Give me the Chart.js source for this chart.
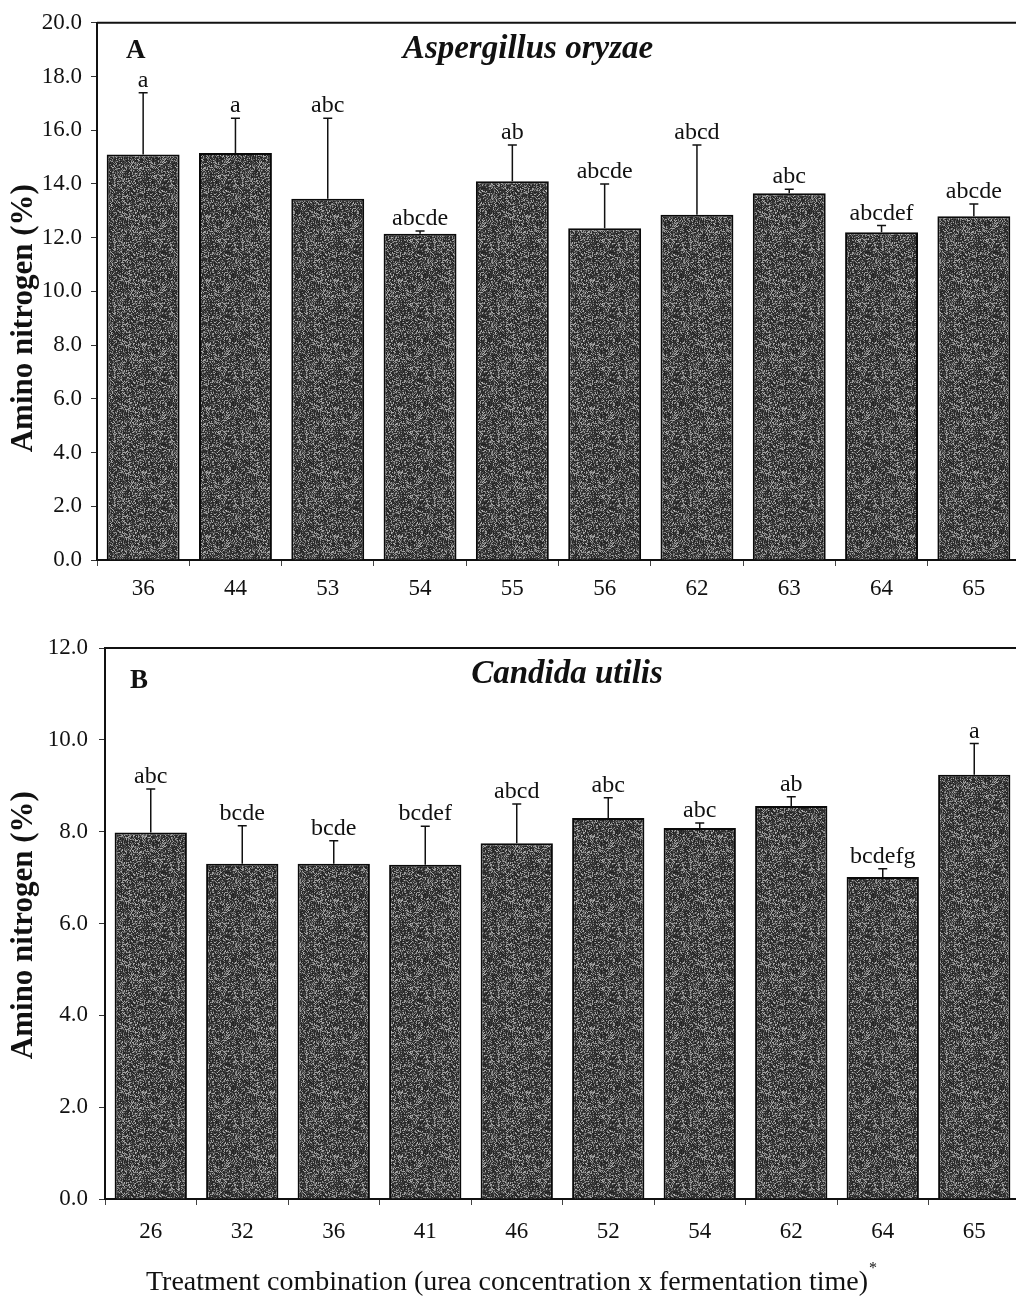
<!DOCTYPE html>
<html>
<head>
<meta charset="utf-8">
<script src="https://cdn.jsdelivr.net/npm/chart.js@4.4.1/dist/chart.umd.min.js"></script>
<style>
  html, body { margin: 0; padding: 0; background: #fff; overflow: hidden; }
  #wrap { position: relative; width: 1016px; height: 1302px; overflow: hidden; }
  .panel { position: absolute; left: 0; }
  #pa { top: 0; }
  #pb { top: 620px; }
</style>
</head>
<body>
<div id="wrap">
  <div class="panel" id="pa"><canvas id="chartA" width="1022" height="620"></canvas></div>
  <div class="panel" id="pb"><canvas id="chartB" width="1022" height="682"></canvas></div>
</div>
<script>
// --- data ---
const treatmentsA = ['36', '44', '53', '54', '55', '56', '62', '63', '64', '65'];
const meansA = [15.1, 15.15, 13.45, 12.15, 14.1, 12.35, 12.85, 13.65, 12.2, 12.8];
const upperA = [17.4, 16.45, 16.45, 12.25, 15.45, 14.0, 15.45, 13.8, 12.45, 13.25];
const lettersA = ['a', 'a', 'abc', 'abcde', 'ab', 'abcde', 'abcd', 'abc', 'abcdef', 'abcde'];

const treatmentsB = ['26', '32', '36', '41', '46', '52', '54', '62', '64', '65'];
const meansB = [7.98, 7.3, 7.3, 7.28, 7.75, 8.3, 8.08, 8.56, 7.01, 9.24];
const upperB = [8.93, 8.13, 7.8, 8.12, 8.6, 8.74, 8.19, 8.76, 7.19, 9.92];
const lettersB = ['abc', 'bcde', 'bcde', 'bcdef', 'abcd', 'abc', 'abc', 'ab', 'bcdefg', 'a'];

const SERIF = '"Liberation Serif", "Times New Roman", serif';

// grainy dark fill, like the scanned bars
function makeTexture() {
    const c = document.createElement('canvas');
    c.width = 64; c.height = 64;
    const g = c.getContext('2d');
    const img = g.createImageData(64, 64);
    for (let i = 0; i < 64 * 64; i++) {
        const h = Math.sin(i * 12.9898 + (i % 7) * 78.233) * 43758.5453;
        const f = h - Math.floor(h);
        const v = f < 0.62 ? 30 + f * 55 : 75 + (f - 0.62) * 280;
        img.data[i * 4] = img.data[i * 4 + 1] = img.data[i * 4 + 2] = Math.round(v);
        img.data[i * 4 + 3] = 255;
    }
    g.putImageData(img, 0, 0);
    return g.createPattern(c, 'repeat');
}

// error bars, significance letters, frame and text
const annotate = {
    id: 'annotate',
    afterDatasetsDraw(chart, args, o) {
        const { ctx, chartArea: ca, scales: { x, y } } = chart;
        const means = chart.data.datasets[0].data;
        ctx.save();

        ctx.strokeStyle = '#111';
        ctx.fillStyle = '#111';
        ctx.font = '24px ' + SERIF;
        ctx.textAlign = 'center';
        ctx.textBaseline = 'alphabetic';
        o.upper.forEach((u, i) => {
            const px = x.getPixelForValue(i);
            const top = y.getPixelForValue(u);
            const base = y.getPixelForValue(means[i]);
            ctx.lineWidth = 1.5;
            ctx.beginPath();
            ctx.moveTo(px, base);
            ctx.lineTo(px, top);
            ctx.moveTo(px - 4.5, top);
            ctx.lineTo(px + 4.5, top);
            ctx.stroke();
            ctx.fillText(o.letters[i], px, top - 6);
        });

        // top frame line
        ctx.lineWidth = 2;
        ctx.beginPath();
        ctx.moveTo(ca.left, ca.top);
        ctx.lineTo(ca.right + 4, ca.top);
        ctx.stroke();

        // panel letter
        ctx.textAlign = 'left';
        ctx.font = 'bold 27px ' + SERIF;
        ctx.fillText(o.panel, ca.left + o.panelDx, ca.top + o.panelDy);

        // species name
        ctx.textAlign = 'center';
        ctx.font = 'italic bold 33px ' + SERIF;
        ctx.fillText(o.species, o.speciesX, ca.top + o.speciesDy);

        // y axis title
        ctx.save();
        ctx.translate(24, ca.top + o.yTitlePos * (ca.bottom - ca.top));
        ctx.rotate(-Math.PI / 2);
        ctx.textBaseline = 'middle';
        ctx.font = 'bold 31px ' + SERIF;
        ctx.fillText('Amino nitrogen (%)', 0, 0);
        ctx.restore();

        // x axis title (panel B only)
        if (o.xTitle) {
            ctx.textAlign = 'left';
            ctx.font = '28px ' + SERIF;
            const tx = 146, ty = ca.bottom + 91;
            ctx.fillText(o.xTitle, tx, ty);
            const w = ctx.measureText(o.xTitle).width;
            ctx.font = '16px ' + SERIF;
            ctx.fillText('*', tx + w + 1, ty - 17);
        }
        ctx.restore();
    }
};

function buildChart(id, labels, means, cfg) {
    const tex = makeTexture();
    return new Chart(document.getElementById(id), {
        type: 'bar',
        data: {
            labels: labels,
            datasets: [{
                data: means,
                backgroundColor: tex,
                borderColor: '#0a0a0a',
                borderWidth: 2,
                borderSkipped: 'bottom',
                barPercentage: 0.79,
                categoryPercentage: 1.0
            }]
        },
        options: {
            responsive: false,
            animation: false,
            layout: { padding: { top: cfg.padTop, right: 2, left: 0, bottom: 0 } },
            plugins: {
                legend: { display: false },
                tooltip: { enabled: false },
                annotate: cfg.annotate
            },
            scales: {
                x: {
                    afterFit: s => { s.height = cfg.xHeight; },
                    grid: { drawOnChartArea: false, drawTicks: true, tickLength: 6, color: '#444', lineWidth: 1 },
                    border: { display: true, color: '#111', width: 2 },
                    ticks: { color: '#111', font: { family: SERIF, size: 23 }, padding: cfg.xPad, maxRotation: 0 }
                },
                y: {
                    min: 0,
                    max: cfg.yMax,
                    afterFit: s => { s.width = cfg.yWidth; },
                    grid: { drawOnChartArea: false, drawTicks: true, tickLength: 6, color: '#333', lineWidth: 1 },
                    border: { display: true, color: '#111', width: 2 },
                    ticks: {
                        stepSize: 2,
                        color: '#111',
                        font: { family: SERIF, size: 23 },
                        padding: cfg.yPad,
                        callback: v => Number(v).toFixed(1)
                    }
                }
            }
        },
        plugins: [annotate]
    });
}

buildChart('chartA', treatmentsA, meansA, {
    padTop: 18, xHeight: 60, xPad: 9, yWidth: 97, yPad: 9, yMax: 20,
    annotate: {
        upper: upperA, letters: lettersA,
        panel: 'A', panelDx: 29, panelDy: 35,
        species: 'Aspergillus oryzae', speciesX: 528, speciesDy: 35,
        yTitlePos: 0.55
    }
});

buildChart('chartB', treatmentsB, meansB, {
    padTop: 28, xHeight: 103, xPad: 13, yWidth: 105, yPad: 11, yMax: 12,
    annotate: {
        upper: upperB, letters: lettersB,
        panel: 'B', panelDx: 25, panelDy: 40,
        species: 'Candida utilis', speciesX: 567, speciesDy: 35,
        yTitlePos: 0.503,
        xTitle: 'Treatment combination (urea concentration x fermentation time)'
    }
});
</script>
</body>
</html>
